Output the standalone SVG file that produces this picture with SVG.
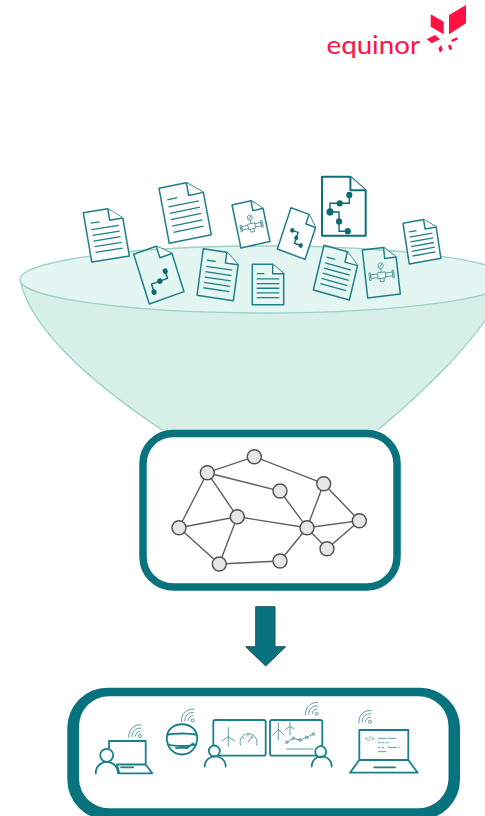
<svg xmlns="http://www.w3.org/2000/svg" xmlns:xlink="http://www.w3.org/1999/xlink" width="485" height="816" viewBox="0 0 485 816">
<style>
path,circle{vector-effect:non-scaling-stroke}
.doc{fill:#fff;stroke:#1f7f88;stroke-width:1.5;stroke-linejoin:round}
.docin{fill:none}
.dk{stroke:#0d6f78;stroke-width:2}
.tl{fill:none;stroke:#1f7f88;stroke-width:1.3}
.ch{fill:none;stroke:#0b6a73;stroke-width:1.4}
.dot{fill:#0b6a73}
.vl{fill:none;stroke:#4f929a;stroke-width:.9}
.box{fill:#fff;stroke:#08737c}
.edge{stroke:#5f5f5f;stroke-width:1.4;fill:none}
.node{fill:#e6e6e6;stroke:#505050;stroke-width:1.4}
.ic{fill:none;stroke:#17808a;stroke-width:1.8;stroke-linecap:round;stroke-linejoin:round}
.thin{fill:none;stroke:#5c9fa7;stroke-width:1;stroke-linecap:round;stroke-linejoin:round}
.wifi{fill:none;stroke:#5f9aa1;stroke-width:1}
.logo{fill:#ff1243}
</style>
<defs>
<path id="sheet" d="M0 0H65L100 30V130H0Z"/>
<path id="foldl" d="M65 0V30H100"/>
<g id="lines"><path d="M14 30H38M14 47H86M14 62H86M14 77H86M14 92H86M14 107H86"/></g>
<g id="chain3"><path class="ch" d="M22 106V85H68V66"/><circle class="dot" cx="22" cy="106" r="7"/><circle class="dot" cx="46" cy="85" r="7"/><circle class="dot" cx="68" cy="66" r="7"/></g>
<g id="chainb"><path class="ch" d="M28 62H49V96H71.5"/><circle class="dot" cx="28" cy="62" r="7"/><circle class="dot" cx="49" cy="79" r="7"/><circle class="dot" cx="71.5" cy="96" r="7"/></g>
<g id="valve"><circle class="vl" cx="50" cy="48" r="8"/><path class="vl" d="M46 52L54 44M50 56V66M38 66H62V82H38ZM38 69H16V79H38M62 69H84V79H62M12 64H17V84H12ZM83 64H88V84H83ZM44 82V91H56V82"/></g>
<g id="wf"><circle cx="0" cy="0" r="1.5" fill="none" stroke="#5f9aa1"/><path class="wifi" d="M-4.5 .5A4.5 4.5 0 0 1 .5 -4.5M-7.8 1A7.8 7.8 0 0 1 1 -7.8M-11 1.7A11 11 0 0 1 1.7 -11"/></g>
</defs>

<rect width="485" height="816" fill="#fff"/>

<g id="logo">
<text x="326.5" y="53.5" font-family="Lato, 'Noto Sans', sans-serif" font-size="25" textLength="93.5" lengthAdjust="spacingAndGlyphs" class="logo">equinor</text>
<path class="logo" d="M449 15L466 5V23.3L449 34.3ZM430.7 14.3L443.7 21.7V34.3L430.7 26.7ZM426.7 39.3L435 35L440 39.3L431.7 43.3ZM451 40L456.7 37.3L458 39.3L452.3 42ZM438.3 48.3L441.3 45L442.7 50L440 52.7ZM448 45.7L450.3 44.3L452.3 49L449.7 50Z"/>
</g>

<g id="funnel">
<path d="M20 280C30 325 80 375 162 430H378C425 390 480 340 510 280Z" fill="#d6f0e8"/>
<path d="M20 280C30 325 80 375 162 430M378 430C425 390 480 340 510 280" fill="none" stroke="#9dd0ca" stroke-width="1.2"/>
<ellipse cx="265" cy="279.5" rx="245" ry="33.5" fill="#e4f6f1" stroke="#9dd0ca" stroke-width="1.3"/>
</g>

<g id="documents">
<g id="doc1" transform="matrix(.376 -.06 .065 .379 83.3 212.7)"><use xlink:href="#sheet" class="doc"/><use xlink:href="#foldl" class="doc"/><use xlink:href="#lines" class="tl"/></g>
<g id="doc2" transform="matrix(.42 -.086 .079 .423 159 188.3)"><use xlink:href="#sheet" class="doc"/><use xlink:href="#foldl" class="doc"/><use xlink:href="#lines" class="tl"/></g>
<g id="doc3" transform="matrix(.29 -.066 .069 .331 232 205)"><use xlink:href="#sheet" class="doc"/><use xlink:href="#foldl" class="doc"/><use xlink:href="#valve"/></g>
<g id="doc4" transform="matrix(.347 -.123 .12 .382 133.7 254.3)"><use xlink:href="#sheet" class="doc docin"/><use xlink:href="#foldl" class="doc"/><use xlink:href="#chain3"/></g>
<g id="doc5" transform="matrix(.363 .054 -.048 .358 203.3 248.7)"><use xlink:href="#sheet" class="doc docin"/><use xlink:href="#foldl" class="doc"/><use xlink:href="#lines" class="tl"/></g>
<g id="doc6" transform="matrix(.314 0 0 .311 252.3 264.3)"><use xlink:href="#sheet" class="doc docin"/><use xlink:href="#foldl" class="doc"/><use xlink:href="#lines" class="tl"/></g>
<g id="doc7" transform="matrix(.277 .103 -.105 .318 291 207.7)"><use xlink:href="#sheet" class="doc"/><use xlink:href="#foldl" class="doc"/><use xlink:href="#chainb"/></g>
<g id="doc8" transform="matrix(.437 0 0 .454 322 176.7)"><use xlink:href="#sheet" class="doc dk"/><use xlink:href="#foldl" class="doc dk"/><path class="ch" d="M62.5 40V58.6H18.3V77.7H39V120H59"/><circle class="dot" cx="62.5" cy="40.3" r="7"/><circle class="dot" cx="40.5" cy="58.6" r="7"/><circle class="dot" cx="18.3" cy="77.7" r="8"/><circle class="dot" cx="39" cy="98.7" r="7"/><circle class="dot" cx="59" cy="120" r="7"/></g>
<g id="doc9" transform="matrix(.36 .1 -.082 .344 324 245.3)"><use xlink:href="#sheet" class="doc docin"/><use xlink:href="#foldl" class="doc"/><use xlink:href="#lines" class="tl"/></g>
<g id="doc10" transform="matrix(.326 -.04 .0415 .369 362.3 250)"><use xlink:href="#sheet" class="doc docin"/><use xlink:href="#foldl" class="doc"/><use xlink:href="#valve"/></g>
<g id="doc11" transform="matrix(.317 -.057 .048 .313 403 223.3)"><use xlink:href="#sheet" class="doc"/><use xlink:href="#foldl" class="doc"/><use xlink:href="#lines" class="tl"/></g>
</g>

<rect id="graph-box" class="box" x="143" y="433.5" width="254" height="153.5" rx="30" stroke-width="7.5"/>

<g id="connectors">
<path class="edge" d="M207.3 472.7L254.3 456.7L323.7 483.7M207.3 472.7L280 491L307 527.7M323.7 483.7L307 527.7M323.7 483.7L359.3 520.7L307 527.7L327 548.7L359.3 520.7M207.3 472.7L237.3 516.7L179 527.7L207.3 472.7M237.3 516.7L307 527.7M237.3 516.7L219.3 564L179 527.7M219.3 564L280 561L307 527.7"/>
</g>
<g id="n1"><circle class="node" cx="207.3" cy="472.7" r="7"/></g>
<g id="n2"><circle class="node" cx="254.3" cy="456.7" r="7"/></g>
<g id="n3"><circle class="node" cx="280" cy="491" r="7"/></g>
<g id="n4"><circle class="node" cx="323.7" cy="483.7" r="7"/></g>
<g id="n5"><circle class="node" cx="237.3" cy="516.7" r="7"/></g>
<g id="n6"><circle class="node" cx="179" cy="527.7" r="7"/></g>
<g id="n7"><circle class="node" cx="307" cy="527.7" r="7"/></g>
<g id="n8"><circle class="node" cx="359.3" cy="520.7" r="7"/></g>
<g id="n9"><circle class="node" cx="327" cy="548.7" r="7"/></g>
<g id="n10"><circle class="node" cx="219.3" cy="564" r="7"/></g>
<g id="n11"><circle class="node" cx="280" cy="561" r="7"/></g>

<path id="arrow" d="M255.7 606.7H275V646.7H285.7L265.7 666L245.7 646.7H255.7Z" fill="#08737c" stroke="#21505f" stroke-width="1"/>

<g id="apps-box">
<rect x="67.3" y="687.7" width="392.7" height="132" rx="40" fill="#08737c"/>
<rect x="79" y="696.2" width="369.5" height="112" rx="30" fill="#fff"/>
</g>

<g id="app-laptop-user">
<use xlink:href="#wf" x="140" y="736"/>
<path class="ic" d="M109 748V741H145.7V764.5H117M117 765L119.3 773.3H152.3L146 765M121 767.3H133.3"/>
<circle cx="106.7" cy="755.3" r="6.5" fill="#fff" stroke="#17808a" stroke-width="1.8"/>
<path class="ic" d="M95.7 773.5C96 758 117.5 758 118 773.5"/>
</g>
<g id="app-headset">
<use xlink:href="#wf" x="192.7" y="720.3"/>
<path class="ic" stroke-width="1.4" d="M166.8 737C168 720 196 720 197.2 737C197.5 748 190 754.5 182 754.5C174 754.5 166.5 748 166.8 737ZM167.5 735C173 733 191 733 196.5 735M169 744.5C174 746.5 190 746.5 195 744.5M176 748L180 747.5L187 748L193 743.5"/>
</g>
<g id="app-screen-turbine">
<rect class="ic" x="213.3" y="720" width="52.4" height="35.7" rx="2"/>
<path class="thin" d="M228.3 746V736.7M228.3 736.7L228.3 727.5M228.3 736.7L222 741M228.3 736.7L234.5 741M240.5 745A8.5 8.5 0 1 1 256.5 745M248 742L252 736M243 737L244 738.5M248 734V736M253 737L252 738.5"/>
<circle cx="214.3" cy="751" r="5.5" fill="#fff" stroke="#17808a" stroke-width="1.8"/>
<path class="ic" d="M204.7 766.5C205 753 225.4 753 225.7 766.5"/>
</g>
<g id="app-screen-chart">
<use xlink:href="#wf" x="316.7" y="713.7"/>
<rect class="ic" x="270" y="720" width="52.3" height="35.7" rx="2"/>
<path class="thin" d="M278.3 740V729.5M278.3 729.5L278.3 723M278.3 729.5L273 735M278.3 729.5L284 735M290 735V726.5M290 726.5V722M290 726.5L286 729M290 726.5L294 729M286.7 742.3L293.3 738.3L300 740L306.7 737.3L313.3 734M286.7 749H313.3"/>
<g class="thin"><circle cx="286.7" cy="742.3" r="1.3"/><circle cx="293.3" cy="738.3" r="1.3"/><circle cx="300" cy="740" r="1.3"/><circle cx="306.7" cy="737.3" r="1.3"/><circle cx="313.3" cy="734" r="1.3"/></g>
<circle cx="320.7" cy="751.7" r="5.5" fill="#fff" stroke="#17808a" stroke-width="1.8"/>
<path class="ic" d="M311.7 766.5C312 753 331.4 753 331.7 766.5"/>
</g>
<g id="app-laptop-code">
<use xlink:href="#wf" x="370" y="721.7"/>
<path class="ic" d="M359.3 759.5V730H408.3V759.5M359.3 760L350 772.7H417.7L408.3 760H359.3ZM374.3 767.3H395"/>
<text x="364.5" y="740.5" font-family="'Liberation Sans', Arial, sans-serif" font-size="7" fill="#4f9199">&lt;/&gt;</text>
<path class="thin" d="M378.3 738.3H386.7M388.3 738.3H396M378.3 742.7H380M382 742.7H384M386 742.7H388M378.3 747.3H380M382 747.3H384M388 747.3H396.5M399 747.3H400M378.3 751.7H386"/>
</g>
</svg>
